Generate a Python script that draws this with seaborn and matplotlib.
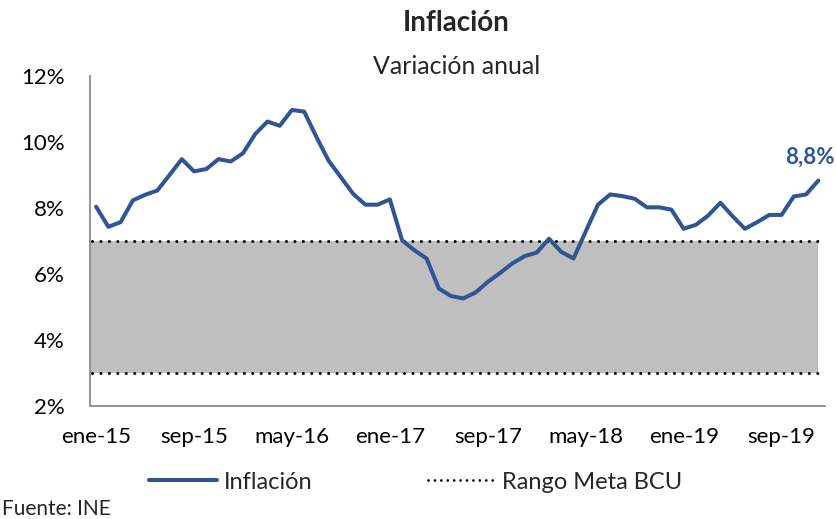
import numpy as np
import pandas as pd
import seaborn as sns
import matplotlib.pyplot as plt

# datos mensuales ene-15 a dic-19 (variación anual, %)
meses = pd.date_range("2015-01-01", "2019-12-01", freq="MS")
inflacion = [
    8.04, 7.43, 7.57, 8.23, 8.40, 8.53, 9.00, 9.48, 9.11, 9.18, 9.48, 9.41,
    9.66, 10.24, 10.62, 10.49, 10.97, 10.92, 10.15, 9.43, 8.93, 8.43, 8.10, 8.10,
    8.26, 7.02, 6.72, 6.47, 5.56, 5.33, 5.26, 5.44, 5.76, 6.03, 6.32, 6.54,
    6.65, 7.07, 6.67, 6.47, 7.29, 8.10, 8.41, 8.36, 8.28, 8.02, 8.02, 7.95,
    7.37, 7.49, 7.77, 8.16, 7.75, 7.37, 7.57, 7.79, 7.79, 8.35, 8.41, 8.83,
]
meta_min = 3.0
meta_max = 7.0
meses_es = ["ene", "feb", "mar", "abr", "may", "jun",
            "jul", "ago", "sep", "oct", "nov", "dic"]
etiquetas = [f"{meses_es[m.month - 1]}-{m.year % 100:02d}" for m in meses]

df = pd.DataFrame({"t": np.arange(len(meses)), "Inflación": inflacion})

sns.set_style("white")
plt.rcParams["font.family"] = ["Lato", "DejaVu Sans"]

azul = "#2F5597"

fig = plt.figure(figsize=(8.37, 5.19), dpi=100)
ax = fig.add_axes([0.1075, 0.2177, 0.8782, 0.6359])

# banda del rango meta
x_ini, x_fin = -0.5, df["t"].iloc[-1]
ax.fill_between([x_ini, x_fin], meta_min, meta_max, color="#BFBFBF", lw=0, zorder=1)
for nivel in (meta_min, meta_max):
    ax.hlines(nivel, x_ini + 0.15, x_fin, colors="black", lw=2.2,
              linestyles=(0, (0.01, 2.75)), capstyle="round", zorder=2)

sns.lineplot(data=df, x="t", y="Inflación", color=azul, lw=2.9, ax=ax, zorder=3,
             legend=False)

# etiqueta del último dato
ult = df.iloc[-1]
ax.annotate(f"{ult['Inflación']:.1f}%".replace(".", ","), (ult["t"], ult["Inflación"]),
            xytext=(-6, 9), textcoords="offset points", ha="center", va="bottom",
            fontsize=16, fontweight="bold", color=azul)

ax.set_xlim(-0.5, 59.55)
ax.set_ylim(2, 12)
ax.set_yticks(np.arange(2, 13, 2))
ax.set_yticklabels([f"{v}%" for v in range(2, 13, 2)])
pos = df["t"].values[::8]
ax.set_xticks(pos)
ax.set_xticklabels([etiquetas[i] for i in pos])
ax.tick_params(axis="both", length=0, labelsize=16, colors="black")
ax.tick_params(axis="y", pad=18)
ax.tick_params(axis="x", pad=15)
ax.set_xlabel("")
ax.set_ylabel("")

for lado in ("top", "right"):
    ax.spines[lado].set_visible(False)
for lado in ("left", "bottom"):
    ax.spines[lado].set_color("#8C8C8C")
    ax.spines[lado].set_linewidth(1.3)

fig.text(0.545, 0.955, "Inflación", ha="center", va="center",
         fontsize=20, fontweight="bold")
fig.text(0.545, 0.872, "Variación anual", ha="center", va="center", fontsize=18)

h1 = plt.Line2D([], [], color=azul, lw=2.9)
h2 = plt.Line2D([], [], color="black", lw=2.0, linestyle=(0, (0.01, 2.3)),
                dash_capstyle="round")
fig.legend([h1, h2], ["Inflación", "Rango Meta BCU"], loc="center",
           bbox_to_anchor=(0.497, 0.071), ncol=2, frameon=False, fontsize=17,
           handlelength=2.85, columnspacing=4.9, handletextpad=0.3)

fig.text(0.002, 0.02, "Fuente: INE", ha="left", va="center", fontsize=15)

fig.savefig("out.png", dpi=100)
